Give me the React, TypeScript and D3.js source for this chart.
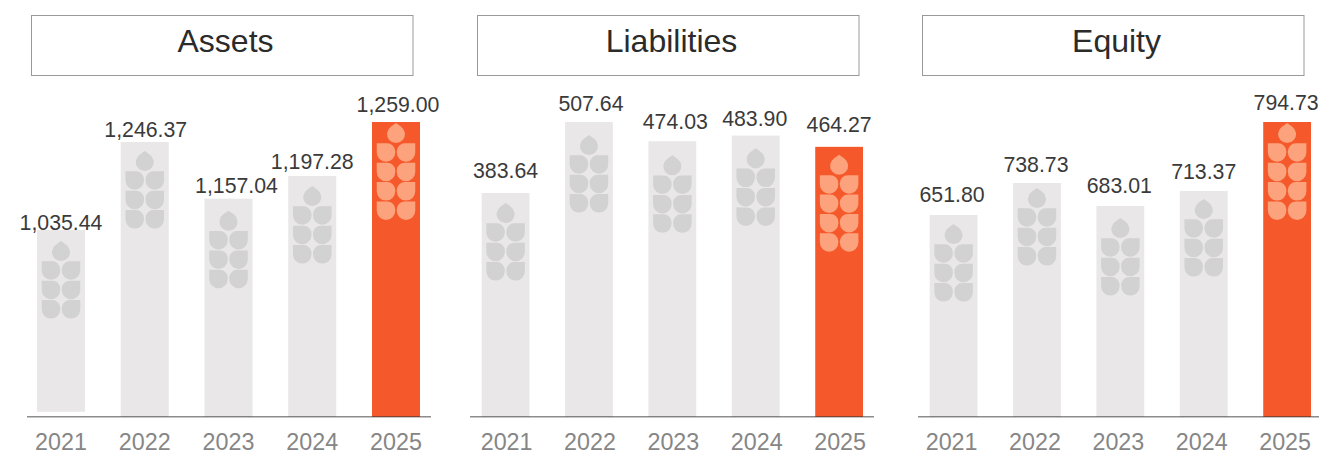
import React from "react";
import * as d3 from "d3";

const WIDTH = 1319;
const HEIGHT = 453;

const years = ["2021", "2022", "2023", "2024", "2025"];
const panelTitles = ["Assets", "Liabilities", "Equity"];

const assetValues = [1035.44, 1246.37, 1157.04, 1197.28, 1259.0];
const liabilityValues = [383.64, 507.64, 474.03, 483.9, 464.27];
const equityValues = [651.8, 738.73, 683.01, 713.37, 794.73];

const HIGHLIGHT_YEAR = "2025";
const AXIS_Y = 416.8;
const BAR_WIDTH_RATIO = 0.427;

const GREY_BAR = "#e9e7e8";
const ORANGE_BAR = "#f5592b";
const GREY_LEAF = "#d2d2d2";
const ORANGE_LEAF = "#fca27c";

// The vertical scale of each panel is broken: it bends at the listed values.
const panels = [
  {
    title: panelTitles[0],
    values: assetValues,
    scaleDomain: [1035.44, 1157.04, 1197.28, 1246.37, 1259.0],
    scaleRange: [230, 198.7, 176, 142, 122],
    box: [31.5, 413.5],
    bars: [37, 420],
    axis: [27, 431],
    firstBarLift: 5,
    labelGap: [0, 5, 6, 7, 10],
    labelShift: [0, 1, 8, 0, 2],
    yearShift: 0,
    iconInset: [11, 9, 12, 10, 1],
    rows: [3, 3, 3, 3, 4],
  },
  {
    title: panelTitles[1],
    values: liabilityValues,
    scaleDomain: [383.64, 507.64],
    scaleRange: [193, 122],
    box: [477.5, 859.5],
    bars: [481.7, 863],
    axis: [470, 874],
    firstBarLift: 0,
    labelGap: [15, 11, 12, 9.5, 15],
    labelShift: [0, 2, 3, -1, 0],
    yearShift: 1,
    iconInset: [10, 13, 14, 12.7, 8],
    rows: [3, 3, 3, 3, 4],
  },
  {
    title: panelTitles[2],
    values: equityValues,
    scaleDomain: [651.8, 683.01, 713.37, 738.73, 794.73],
    scaleRange: [215, 206, 191, 183, 122],
    box: [922.5, 1304.5],
    bars: [929.7, 1311],
    axis: [918, 1319],
    firstBarLift: 0,
    labelGap: [13, 11, 13, 12, 12],
    labelShift: [-1.5, -1, -1, 0, -1],
    yearShift: -2,
    iconInset: [9, 5, 12, 8, 1],
    rows: [3, 3, 3, 3, 4],
  },
];

const LEAF_R = 9.25;
const LEAF_INNER_R = 8;
const DROP_R = 9;
const DROP_TIP = 11;
const ROW_PITCH = 19.4;

// Ear of wheat: a drop on top and pairs of leaves, each leaf flat on top with a
// sharp outer corner and a rounded belly. Origin is the tip of the drop.
function wheatPath(rows: number): string {
  const r = LEAF_R;
  const c = LEAF_INNER_R;
  const tangentY = DROP_TIP - (DROP_R * DROP_R) / DROP_TIP;
  const tangentX = Math.sqrt(DROP_R * DROP_R - (DROP_R * DROP_R * DROP_R * DROP_R) / (DROP_TIP * DROP_TIP));
  const parts = [
    `M0,0 L${tangentX},${tangentY} A${DROP_R},${DROP_R} 0 1 1 ${-tangentX},${tangentY} Z`,
  ];
  const gap = 0.75;
  for (let i = 0; i < rows; i++) {
    const y = 20.3 + i * ROW_PITCH;
    const lo = -gap - 2 * r;
    const li = -gap;
    parts.push(
      `M${lo},${y} L${li - c},${y} A${c},${c} 0 0 1 ${li},${y + c} L${li},${y + r} A${r},${r} 0 0 1 ${lo},${y + r} Z`
    );
    const ro = gap + 2 * r;
    const ri = gap;
    parts.push(
      `M${ro},${y} L${ri + c},${y} A${c},${c} 0 0 0 ${ri},${y + c} L${ri},${y + r} A${r},${r} 0 0 0 ${ro},${y + r} Z`
    );
  }
  return parts.join(" ");
}

const fmt = d3.format(",.2f");

function Panel({ panel }: { panel: (typeof panels)[number] }) {
  const x = d3
    .scaleBand<string>()
    .domain(years)
    .range(panel.bars as [number, number])
    .paddingInner(BAR_WIDTH_RATIO)
    .paddingOuter(0);
  const y = d3.scaleLinear().domain(panel.scaleDomain).range(panel.scaleRange);
  const [boxLeft, boxRight] = panel.box;
  const [axisLeft, axisRight] = panel.axis;

  return (
    <g>
      <rect
        x={boxLeft}
        y={15.5}
        width={boxRight - boxLeft - 0.5}
        height={60}
        fill="#fff"
        stroke="#999"
        strokeWidth={1}
      />
      <text
        x={(boxLeft + boxRight) / 2 + 3}
        y={52}
        textAnchor="middle"
        fontSize={32}
        fill="#2b2b2b"
      >
        {panel.title}
      </text>
      {years.map((year, i) => {
        const value = panel.values[i];
        const top = y(value);
        const cx = x(year)! + x.bandwidth() / 2;
        const highlighted = year === HIGHLIGHT_YEAR;
        const bottom = AXIS_Y - (i === 0 ? panel.firstBarLift : 0);
        return (
          <g key={year}>
            <rect
              x={x(year)}
              y={top}
              width={x.bandwidth()}
              height={bottom - top}
              fill={highlighted ? ORANGE_BAR : GREY_BAR}
            />
            <path
              transform={`translate(${cx},${top + panel.iconInset[i]})`}
              d={wheatPath(panel.rows[i])}
              fill={highlighted ? ORANGE_LEAF : GREY_LEAF}
            />
            <text
              x={cx + panel.labelShift[i]}
              y={top - panel.labelGap[i]}
              textAnchor="middle"
              fontSize={21.3}
              fill="#3a3a3a"
            >
              {fmt(value)}
            </text>
            <text
              x={cx + panel.yearShift}
              y={450}
              textAnchor="middle"
              fontSize={23.3}
              fill="#868686"
            >
              {year}
            </text>
          </g>
        );
      })}
      <line
        x1={axisLeft}
        x2={axisRight}
        y1={AXIS_Y}
        y2={AXIS_Y}
        stroke="#000"
        strokeOpacity={0.45}
        strokeWidth={1.6}
      />
    </g>
  );
}

export default function App() {
  return (
    <svg
      width={WIDTH}
      height={HEIGHT}
      viewBox={`0 0 ${WIDTH} ${HEIGHT}`}
      style={{ position: "absolute", left: 0, top: 0, display: "block" }}
      fontFamily="'Liberation Sans', Helvetica, Arial, sans-serif"
    >
      <rect width={WIDTH} height={HEIGHT} fill="#fff" />
      {panels.map((panel) => (
        <Panel key={panel.title} panel={panel} />
      ))}
    </svg>
  );
}
